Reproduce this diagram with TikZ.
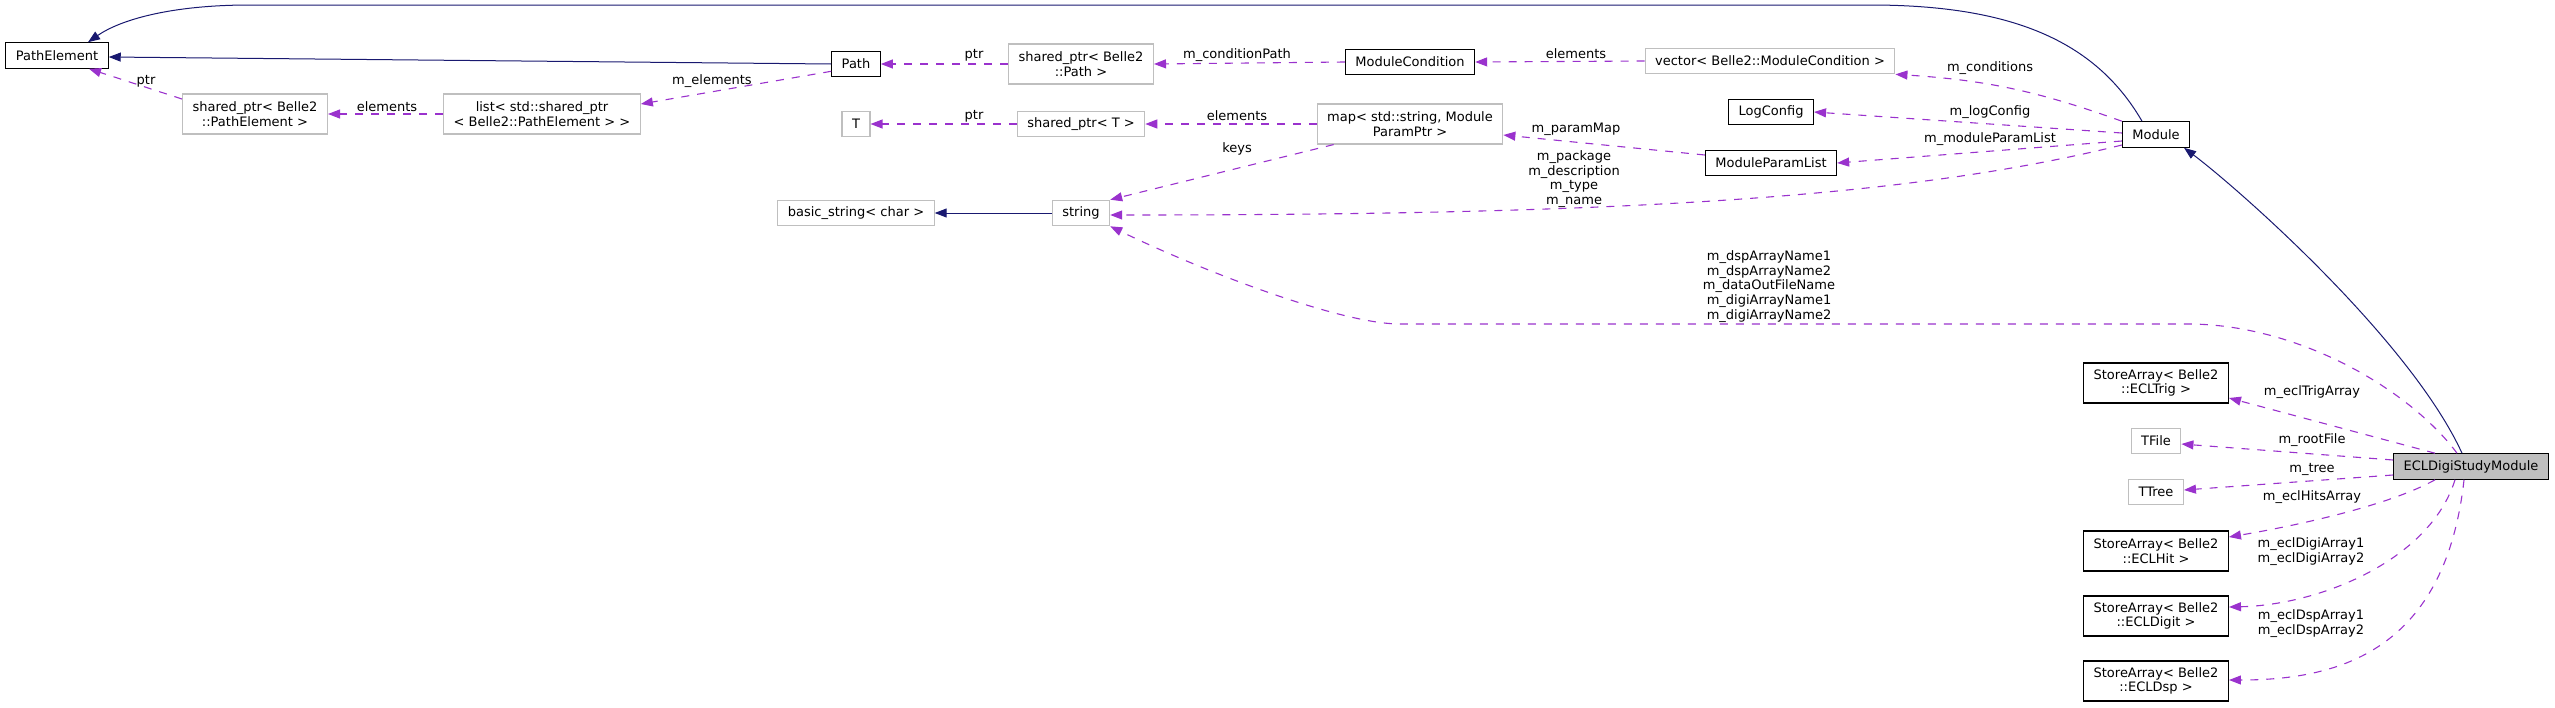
\documentclass[tikz,border=0pt]{standalone}
\usepackage{fontspec}
\setmainfont{DejaVu Sans}
\usetikzlibrary{arrows.meta}
\definecolor{edgenavy}{HTML}{191970}
\definecolor{edgeorchid}{HTML}{9A32CD}
\definecolor{boxgrey}{HTML}{BFBFBF}
\begin{document}
\begin{tikzpicture}[x=1pt, y=-1pt,
		every node/.style={font=\fontsize{13}{14.7}\selectfont, align=center},
		cls/.style={draw=black, line width=1.1pt, fill=white, inner xsep=10pt, inner ysep=3pt, minimum height=25.5pt},
		ext/.style={cls, draw=boxgrey},
		dbl/.style={minimum height=40pt},
		inh/.style={draw=edgenavy, line width=1pt, -{Triangle[length=12pt,width=9pt]}},
		uses/.style={draw=edgeorchid, line width=1.1pt, dash pattern=on 8pt off 8pt, -{Triangle[length=12pt,width=9pt]}},
		lbl/.style={inner sep=0pt}]
	\useasboundingbox (0,0) rectangle (2555,707);
	% classes
	\node[cls] (pathelement) at (57,55.5) {PathElement};
	\node[cls] (path) at (856,64) {Path};
	\node[ext,dbl] (spelem) at (255,114) {shared\_ptr< Belle2\\::PathElement >};
	\node[ext,dbl] (listelem) at (542,114) {list< std::shared\_ptr\\< Belle2::PathElement > >};
	\node[ext] (t) at (856,124) {T};
	\node[ext] (basicstr) at (856,213) {basic\_string< char >};
	\node[ext,dbl] (sppath) at (1081,64) {shared\_ptr< Belle2\\::Path >};
	\node[ext] (spt) at (1081,124) {shared\_ptr< T >};
	\node[ext] (string) at (1081,213) {string};
	\node[cls] (modcond) at (1410,62) {ModuleCondition};
	\node[ext,dbl] (parammap) at (1410,124) {map< std::string, Module\\ParamPtr >};
	\node[ext] (condvec) at (1770,61) {vector< Belle2::ModuleCondition >};
	\node[cls] (logconfig) at (1771,112) {LogConfig};
	\node[cls] (paramlist) at (1771,163) {ModuleParamList};
	\node[cls] (module) at (2156,134.5) {Module};
	\foreach \n/\c/\y in {trig/ECLTrig/383, hit/ECLHit/551, digit/ECLDigit/616, dsp/ECLDsp/681}
		\node[cls,dbl] (\n) at (2156,\y) {StoreArray< Belle2\\::\c{} >};
	\node[ext] (tfile) at (2156,441) {TFile};
	\node[ext] (ttree) at (2156,492) {TTree};
	\node[cls, fill=boxgrey] (ecldigi) at (2471,466.5) {ECLDigiStudyModule};

	% inheritance
	\draw[inh] (path.west) -- ([yshift=-1.5pt]pathelement.east);
	\draw[inh] ([xshift=-14pt]module.north) .. controls (2095,40) and (2010,5) .. (1870,5) -- (250,5) .. controls (170,5) and (120,20) .. ([xshift=31pt]pathelement.north);
	\draw[inh] ([xshift=-9pt]ecldigi.north) .. controls (2410,340) and (2240,190) .. ([xshift=28pt]module.south);
	\draw[inh] (string.west) -- (basicstr.east);

	% usage
	\draw[uses] ([yshift=15pt]spelem.west) -- ([xshift=32pt]pathelement.south);
	\draw[uses] (listelem.west) -- (spelem.east);
	\draw[uses] ([yshift=6pt]path.south west) -- ([yshift=10pt]listelem.east);
	\draw[uses] (sppath.west) -- (path.east);
	\draw[uses] (modcond.west) -- (sppath.east);
	\draw[uses] (condvec.west) -- (modcond.east);
	\draw[uses] (spt.west) -- (t.east);
	\draw[uses] (parammap.west) -- (spt.east);
	\draw[uses] ([xshift=17pt]parammap.south west) -- (string.north east);
	\draw[uses] (module.north west) to[bend right=8] (condvec.south east);
	\draw[uses] ([yshift=1.5pt]module.west) -- (logconfig.east);
	\draw[uses] ([yshift=-6.5pt]module.west) -- (paramlist.east);
	\draw[uses] ([yshift=8pt]paramlist.west) -- ([yshift=-11pt]parammap.east);
	\draw[uses] ([yshift=-10.5pt]module.west) .. controls (1900,200) and (1600,215) .. ([yshift=-2pt]string.east);
	\draw[uses] ([xshift=-14pt]ecldigi.north) .. controls (2410,390) and (2300,325) .. (2190,324) -- (1400,324) .. controls (1340,324) and (1200,270) .. (string.south east);
	\draw[uses] ([xshift=-36pt]ecldigi.north) -- ([yshift=-15pt]trig.east);
	\draw[uses] ([yshift=6.5pt]ecldigi.west) -- ([yshift=-3pt]tfile.east);
	\draw[uses] ([yshift=-8.5pt]ecldigi.west) -- ([yshift=2pt]ttree.east);
	\draw[uses] ([xshift=-36pt]ecldigi.south) .. controls (2390,505) and (2300,525) .. ([yshift=14pt]hit.east);
	\draw[uses] ([xshift=-16pt]ecldigi.south) .. controls (2430,560) and (2320,605) .. ([yshift=9pt]digit.east);
	\draw[uses] ([xshift=-7pt]ecldigi.south) .. controls (2445,650) and (2340,680) .. ([yshift=1pt]dsp.east);

	% labels
	\node[lbl] (lptr1) at (146,81) {ptr};
	\node[lbl] (lelem1) at (387,107) {elements};
	\node[lbl] (lmelem) at (712,81) {m\_elements};
	\node[lbl] (lptr2) at (974,55) {ptr};
	\node[lbl] (lcondpath) at (1237,55) {m\_conditionPath};
	\node[lbl] (lelem2) at (1576,54) {elements};
	\node[lbl] (lptr3) at (974,116) {ptr};
	\node[lbl] (lelem3) at (1237,116) {elements};
	\node[lbl] (lkeys) at (1237,149) {keys};
	\node[lbl] (lparammap) at (1576,129) {m\_paramMap};
	\node[lbl] (lstrings) at (1574,179) {m\_package\\m\_description\\m\_type\\m\_name};
	\node[lbl] (lconds) at (1990,68) {m\_conditions};
	\node[lbl] (llog) at (1990,112) {m\_logConfig};
	\node[lbl] (lplist) at (1990,139) {m\_moduleParamList};
	\node[lbl] (lnames) at (1769,286.5) {m\_dspArrayName1\\m\_dspArrayName2\\m\_dataOutFileName\\m\_digiArrayName1\\m\_digiArrayName2};
	\node[lbl] (ltrig) at (2312,392) {m\_eclTrigArray};
	\node[lbl] (lroot) at (2312,440) {m\_rootFile};
	\node[lbl] (ltree) at (2312,469) {m\_tree};
	\node[lbl] (lhits) at (2312,497) {m\_eclHitsArray};
	\node[lbl] (ldigi) at (2311,551.5) {m\_eclDigiArray1\\m\_eclDigiArray2};
	\node[lbl] (ldsp) at (2311,623.5) {m\_eclDspArray1\\m\_eclDspArray2};
\end{tikzpicture}
\end{document}
